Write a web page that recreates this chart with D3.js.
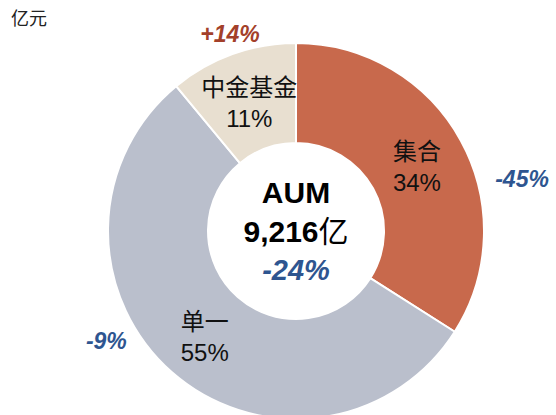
<!DOCTYPE html>
<html>
<head>
<meta charset="utf-8">
<script src="https://cdn.jsdelivr.net/npm/d3@7"></script>
<style>
  body { margin: 0; background: #fff; }
  svg { display: block; }
</style>
</head>
<body>
<div id="chart"></div>
<script>
const categories = ["集合", "单一", "中金基金"];
const shares = [34, 55, 11];
const changes = ["-45%", "-9%", "+14%"];
const aumTotal = "9,216";
const aumChange = "-24%";
const unitLabel = "亿元";

const width = 556;
const height = 415;
const cx = 296, cy = 231;
const outerR = 188, innerR = 88;

// where the yoy change labels sit (degrees from top, radius)
const changeAngle = [77, 240, 341.5];
const changeRadius = [232, 219, 208];

const colors = ["#C8694C", "#BABFCC", "#E8DFD0"];
const changeColors = ["#2E5590", "#2E5590", "#A3402A"];

const latin = "'Liberation Sans', Arial, sans-serif";
const cjk = "'Noto Sans CJK SC', sans-serif";

const svg = d3.select("#chart")
  .append("svg")
  .attr("width", width)
  .attr("height", height);

svg.append("text")
  .attr("x", 11)
  .attr("y", 25)
  .style("font-family", cjk)
  .style("font-size", "18px")
  .attr("fill", "#222")
  .text(unitLabel);

const g = svg.append("g")
  .attr("transform", `translate(${cx},${cy})`);

const pie = d3.pie().sort(null).value(d => d);
const arcs = pie(shares);

const arc = d3.arc().innerRadius(innerR).outerRadius(outerR);

g.selectAll(".slice")
  .data(arcs)
  .enter()
  .append("path")
  .attr("class", "slice")
  .attr("d", arc)
  .attr("fill", (d, i) => colors[i])
  .attr("stroke", "#fff")
  .attr("stroke-width", 2);

// slice labels
const labels = g.selectAll(".slice-label")
  .data(arcs)
  .enter()
  .append("g")
  .attr("class", "slice-label")
  .attr("transform", d => {
    const [x, y] = arc.centroid(d);
    return `translate(${x},${y})`;
  });

labels.append("text")
  .attr("text-anchor", "middle")
  .attr("y", -5)
  .style("font-family", cjk)
  .style("font-size", "24px")
  .attr("fill", "#111")
  .text((d, i) => categories[i]);

labels.append("text")
  .attr("text-anchor", "middle")
  .attr("y", 26)
  .style("font-family", latin)
  .style("font-size", "24px")
  .attr("fill", "#111")
  .text(d => d.data + "%");

// yoy change labels
changes.forEach((c, i) => {
  const a = changeAngle[i] * Math.PI / 180;
  const x = Math.sin(a) * changeRadius[i];
  const y = -Math.cos(a) * changeRadius[i];
  g.append("text")
    .attr("x", x)
    .attr("y", y)
    .attr("dy", "0.35em")
    .attr("text-anchor", "middle")
    .style("font-family", latin)
    .style("font-size", "23px")
    .style("font-weight", "bold")
    .style("font-style", "italic")
    .attr("fill", changeColors[i])
    .text(c);
});

// centre
g.append("text")
  .attr("text-anchor", "middle")
  .attr("y", -28)
  .style("font-family", latin)
  .style("font-size", "30px")
  .style("font-weight", "bold")
  .attr("fill", "#000")
  .text("AUM");

const total = g.append("text")
  .attr("text-anchor", "middle")
  .attr("y", 11)
  .attr("fill", "#000");
total.append("tspan")
  .style("font-family", latin)
  .style("font-size", "30px")
  .style("font-weight", "bold")
  .text(aumTotal);
total.append("tspan")
  .style("font-family", cjk)
  .style("font-size", "30px")
  .text("亿");

g.append("text")
  .attr("text-anchor", "middle")
  .attr("y", 49)
  .style("font-family", latin)
  .style("font-size", "29px")
  .style("font-weight", "bold")
  .style("font-style", "italic")
  .attr("fill", "#2E5590")
  .text(aumChange);
</script>
</body>
</html>
